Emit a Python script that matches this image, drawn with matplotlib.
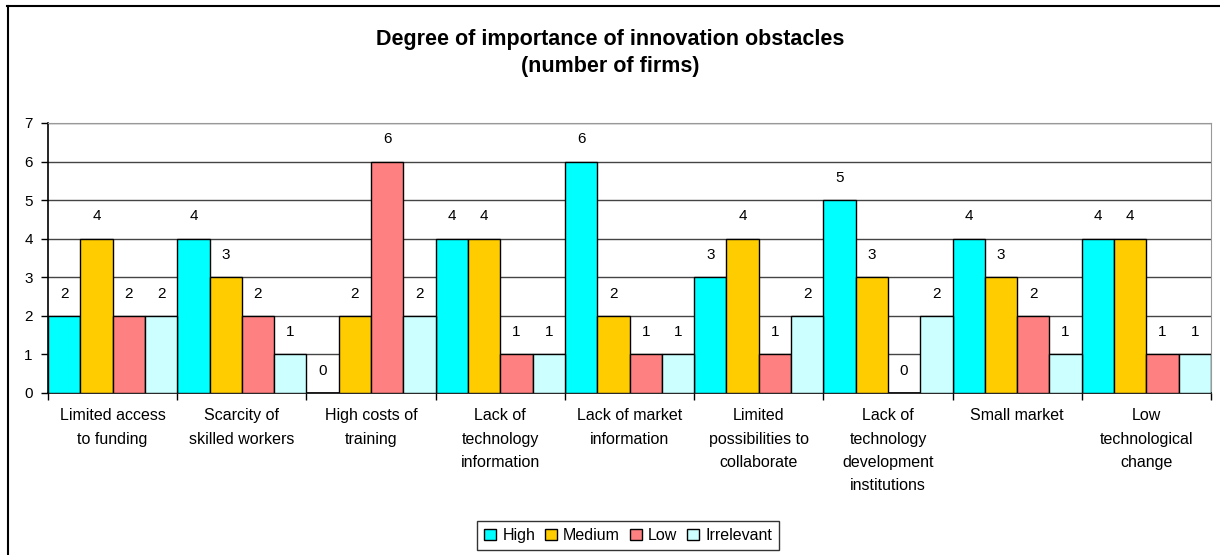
import matplotlib
matplotlib.use("Agg")
import matplotlib.pyplot as plt
import numpy as np
from matplotlib.lines import Line2D

categories = ["Limited access\nto funding", "Scarcity of\nskilled workers", "High costs of\ntraining",
              "Lack of\ntechnology\ninformation", "Lack of market\ninformation",
              "Limited\npossibilities to\ncollaborate", "Lack of\ntechnology\ndevelopment\ninstitutions",
              "Small market", "Low\ntechnological\nchange"]
series_names = ["High", "Medium", "Low", "Irrelevant"]
high = [2, 4, 0, 4, 6, 3, 5, 4, 4]
medium = [4, 3, 2, 4, 2, 4, 3, 3, 4]
low = [2, 2, 6, 1, 1, 1, 0, 2, 1]
irrelevant = [2, 1, 2, 1, 1, 2, 2, 1, 1]
colors = ["#00FFFF", "#FFCC00", "#FF8080", "#CCFFFF"]

plt.rcParams['font.family'] = ['Liberation Sans', 'DejaVu Sans']

W, H = 1220, 555
fig = plt.figure(figsize=(W/100, H/100), dpi=100)
ax = fig.add_axes([48/W, 1-393/H, (1211-48)/W, (393-123)/H])

n = len(categories)
x = np.arange(n)
bw = 0.25
for i, (name, vals, c) in enumerate(zip(series_names, [high, medium, low, irrelevant], colors)):
    pos = x - 0.5 + bw*(i+0.5)
    ax.bar(pos, vals, width=bw, color=c, edgecolor='black', linewidth=1.0, label=name, zorder=3)
    for p, v in zip(pos, vals):
        ax.annotate(str(v), (p, v), xytext=(0, 16), textcoords='offset points',
                    ha='center', va='center', fontsize=11, zorder=4)

ax.set_xlim(-0.5, n-0.5)
ax.set_ylim(0, 7)
ax.set_yticks(range(0, 8))
ax.yaxis.grid(True, color='#444444', linewidth=1.0, zorder=0)
ax.set_axisbelow(True)
ax.set_xticks(np.arange(-0.5, n, 1.0))
ax.set_xticklabels([])
ax.set_xticks(x, minor=True)
ax.set_xticklabels(categories, minor=True, fontsize=11.5, linespacing=1.7, va='top')
ax.tick_params(axis='x', which='major', length=5, width=1, color='black', direction='out')
ax.tick_params(axis='x', which='minor', length=0, pad=11)
ax.tick_params(axis='y', length=5, width=1, direction='out', labelsize=11, pad=6)
ax.spines['top'].set_color('#999999')
ax.spines['right'].set_color('#999999')
ax.spines['left'].set_linewidth(1.2)
ax.spines['bottom'].set_linewidth(1.2)

fig.suptitle("Degree of importance of innovation obstacles\n(number of firms)", y=1-29/H, va='top',
             fontsize=15.5, fontweight='bold', linespacing=1.35)

leg = fig.legend(loc='center', bbox_to_anchor=(628/W, 1-535.5/H), ncol=4, fontsize=11.5,
                 frameon=True, fancybox=False, edgecolor='black', handlelength=0.75, handleheight=0.75,
                 handletextpad=0.4, columnspacing=0.6, borderpad=0.45)
leg.get_frame().set_linewidth(1.0)

fig.add_artist(Line2D([7/W, 1.0], [1-6/H, 1-6/H], color='black', linewidth=1.5, transform=fig.transFigure))
fig.add_artist(Line2D([8/W, 8/W], [0, 1-6/H], color='black', linewidth=1.5, transform=fig.transFigure))

fig.savefig("out.png", dpi=100)
